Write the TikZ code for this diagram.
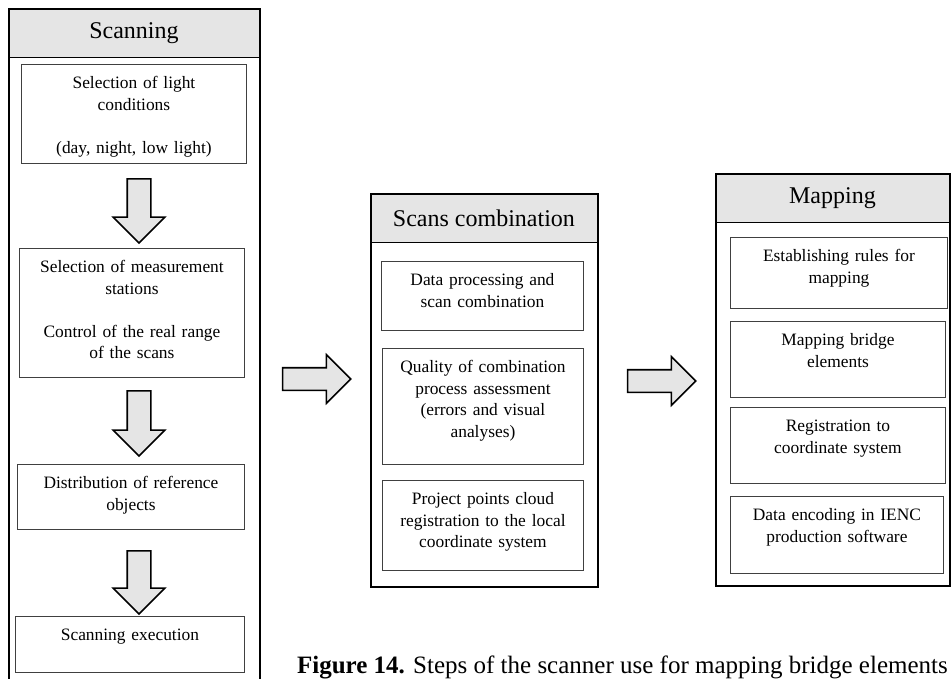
\documentclass[tikz,border=0pt]{standalone}
\usepackage{fontspec}
\setmainfont{Liberation Serif}
\usepackage{tikz}
\usetikzlibrary{shapes.arrows, positioning}

\tikzset{
    panelbox/.style={draw=black, line width=2.4pt, inner sep=0pt, anchor=north west},
    headbox/.style={draw=black, line width=0.9pt, fill=gray!20, inner sep=0pt,
        anchor=north west, font=\fontsize{24}{28}\selectfont},
    stepbox/.style={draw=black!75, line width=0.9pt, inner sep=0pt, anchor=north west,
        align=center, text height=24.5pt, font=\fontsize{17.4}{21.5}\selectfont},
    blockarrow/.style={single arrow, draw=black, line width=1.6pt, fill=gray!20,
        inner xsep=0pt, inner ysep=11pt, single arrow head extend=14pt},
    sidearrow/.style={blockarrow, inner ysep=10.5pt, single arrow head extend=13pt}
}

\begin{document}
\begin{tikzpicture}[x=1pt, y=-1pt]
    \useasboundingbox (0,0) rectangle (951,679);
    \clip (0,0) rectangle (951,679);

    % Scanning
    \node[headbox, minimum width=251pt, minimum height=49pt] (scanhead) at (8,8) {Scanning};
    \node[panelbox, minimum width=251pt, minimum height=712pt] (scanpanel) at (8,8) {};
    \node[stepbox, text width=225pt, text depth=74.5pt] (light) at (21,64)
        {Selection of light\\ conditions\\[21.5pt] (day, night, low light)};
    \node[stepbox, text width=225pt, text depth=104.5pt] (stations) at (19,248)
        {Selection of measurement\\ stations\\[21.5pt] Control of the real range\\ of the scans};
    \node[stepbox, text width=227pt, text depth=40.5pt] (refobj) at (17,464)
        {Distribution of reference\\ objects};
    \node[stepbox, text width=229pt, text depth=31.5pt] (execution) at (15,616)
        {Scanning execution};
    \node[blockarrow, rotate=-90, minimum height=64pt] (down1) at (139,205) {};
    \node[blockarrow, rotate=-90, minimum height=65pt] (down2) at (139,417.5) {};
    \node[blockarrow, rotate=-90, minimum height=63pt] (down3) at (139,576.5) {};

    % Scans combination
    \node[headbox, minimum width=227pt, minimum height=49pt] (combhead) at (370,193) {Scans combination};
    \node[panelbox, minimum width=227pt, minimum height=393pt] (combpanel) at (370,193) {};
    \node[stepbox, text width=202pt, text depth=44.5pt] (processing) at (381,261)
        {Data processing and\\ scan combination};
    \node[stepbox, text width=201pt, text depth=91.5pt] (quality) at (382,348)
        {Quality of combination\\ process assessment\\ (errors and visual\\ analyses)};
    \node[stepbox, text width=201pt, text depth=65.5pt] (cloud) at (382,480)
        {Project points cloud\\ registration to the local\\ coordinate system};

    % Mapping
    \node[headbox, minimum width=234pt, minimum height=49pt] (maphead) at (715,173) {Mapping};
    \node[panelbox, minimum width=234pt, minimum height=412pt] (mappanel) at (715,173) {};
    \node[stepbox, text width=217pt, text depth=46.5pt] (rules) at (730,237)
        {Establishing rules for\\ mapping};
    \node[stepbox, text width=215pt, text depth=51.5pt] (bridge) at (730,321)
        {Mapping bridge\\ elements};
    \node[stepbox, text width=215pt, text depth=51.5pt] (registration) at (730,407)
        {Registration to\\ coordinate system};
    \node[stepbox, text width=213pt, text depth=52.5pt] (encoding) at (730,496)
        {Data encoding in IENC\\ production software};

    % arrows between the stages
    \node[sidearrow, minimum height=68pt] (side1) at (311,379) {};
    \node[sidearrow, minimum height=68pt] (side2) at (656,381) {};

    % Caption
    \node[anchor=base east, inner sep=0pt, font=\fontsize{25}{29}\selectfont] (caption) at (948,673)
        {\textbf{Figure 14.} Steps of the scanner use for mapping bridge elements};
\end{tikzpicture}
\end{document}
